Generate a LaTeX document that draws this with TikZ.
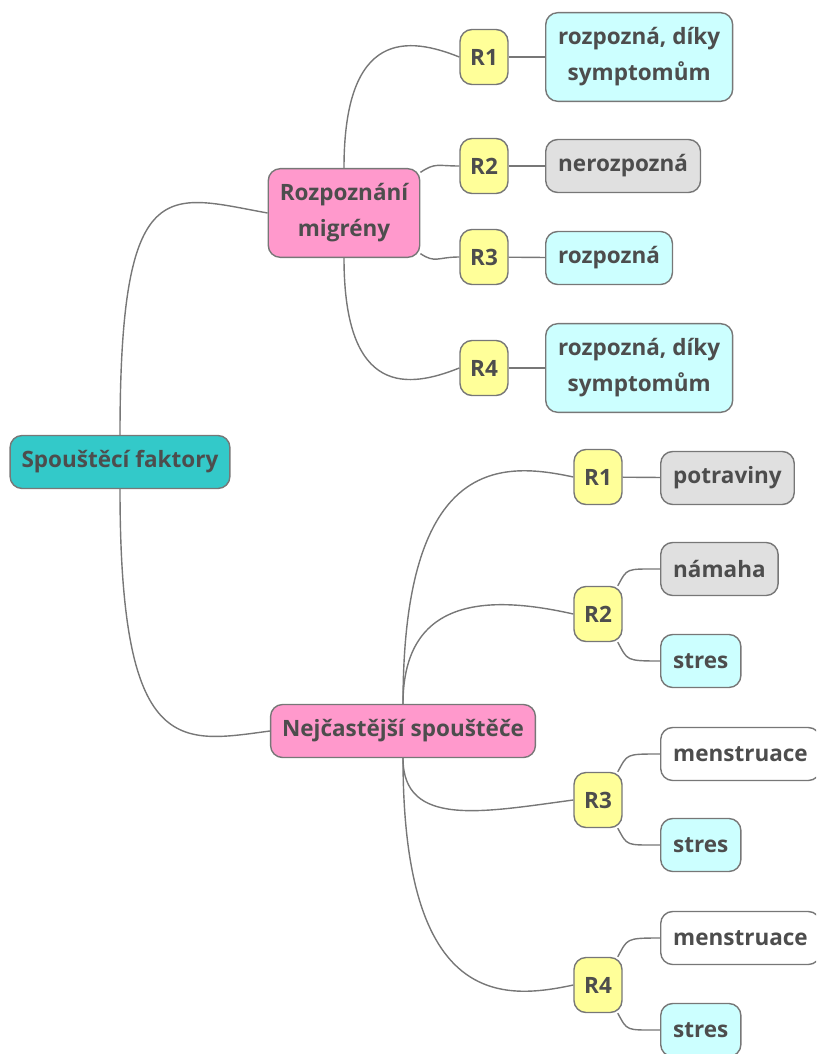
\documentclass[tikz,border=0pt]{standalone}
\usepackage{fontspec}
\setmainfont{Open Sans}
\usetikzlibrary{calc}
\definecolor{edgegray}{HTML}{777777}
\definecolor{txtgray}{HTML}{4D4D4D}
\definecolor{rootfill}{HTML}{33C9C9}
\definecolor{pinkfill}{HTML}{FF99CC}
\definecolor{yellowfill}{HTML}{FFFF99}
\definecolor{cyanfill}{HTML}{CCFFFF}
\definecolor{grayfill}{HTML}{E0E0E0}
\tikzset{
  box/.style={draw=edgegray, line width=1.4pt, rounded corners=12pt, text=txtgray,
    font=\fontsize{22.5}{36}\selectfont\bfseries, align=center,
    inner xsep=11.5pt, inner ysep=13.5pt, minimum height=53pt},
  twoline/.style={inner ysep=15pt},
  rootbox/.style={box, fill=rootfill},
  topicbox/.style={box, fill=pinkfill},
  rbox/.style={box, fill=yellowfill, minimum width=48pt, minimum height=55pt, inner xsep=3pt},
  leafyes/.style={box, fill=cyanfill, anchor=west, inner xsep=12.5pt},
  leafno/.style={box, fill=grayfill, anchor=west, inner xsep=12.5pt},
  leafplain/.style={box, fill=white, anchor=west, inner xsep=12.5pt},
  link/.style={draw=edgegray, line width=1.4pt},
}
\begin{document}
\begin{tikzpicture}[x=1pt, y=-1pt]
\useasboundingbox (0,0) rectangle (816,1054);
\clip (0,0) rectangle (816,1054);

% root and main topics
\node[rootbox] (root) at (120,462) {Spouštěcí faktory};
\node[topicbox, twoline] (rozp) at (344,213) {Rozpoznání\\migrény};
\node[topicbox] (nej) at (403,731) {Nejčastější spouštěče};

% recognition branch
\node[rbox] (a1) at (484,57) {R1};
\node[rbox] (a2) at (484,166) {R2};
\node[rbox] (a3) at (484,257) {R3};
\node[rbox] (a4) at (484,368) {R4};
\node[leafyes, twoline] (a1l) at (545,57) {rozpozná, díky\\symptomům};
\node[leafno] (a2l) at (545,166) {nerozpozná};
\node[leafyes] (a3l) at (545,258) {rozpozná};
\node[leafyes, twoline] (a4l) at (545,368) {rozpozná, díky\\symptomům};

% triggers branch
\node[rbox] (b1) at (598,477) {R1};
\node[rbox] (b2) at (598,614) {R2};
\node[rbox] (b3) at (598,800) {R3};
\node[rbox] (b4) at (598,985) {R4};
\node[leafno] (b1l) at (660,478) {potraviny};
\node[leafno] (b2a) at (660,569) {námaha};
\node[leafyes] (b2b) at (660,661) {stres};
\node[leafplain] (b3a) at (660,754) {menstruace};
\node[leafyes] (b3b) at (660,845) {stres};
\node[leafplain] (b4a) at (660,938) {menstruace};
\node[leafyes] (b4b) at (660,1030) {stres};

% root connectors
\draw[link] (root.north) .. controls +(0,-266) and +(-100,-18) .. (rozp.west);
\draw[link] (root.south) .. controls +(0,270) and +(-90,12) .. (nej.west);

% recognition connectors
\draw[link] (rozp.north) .. controls +(0,-140) and +(-50,-20) .. (a1.west);
\draw[link] (rozp.28) .. controls +(15,-10) and +(-22,0) .. (a2.west);
\draw[link] (rozp.-28) .. controls +(15,10) and +(-22,0) .. (a3.west);
\draw[link] (rozp.south) .. controls +(0,140) and +(-50,20) .. (a4.west);
\draw[link] (a1) -- (a1l);
\draw[link] (a2) -- (a2l);
\draw[link] (a3) -- (a3l);
\draw[link] (a4) -- (a4l);

% trigger connectors
\draw[link] (nej.north) .. controls +(0,-250) and +(-70,-15) .. (b1.west);
\draw[link] (nej.north) .. controls +(0,-110) and +(-80,-18) .. (b2.west);
\draw[link] (nej.south) .. controls +(0,70) and +(-90,12) .. (b3.west);
\draw[link] (nej.south) .. controls +(0,250) and +(-70,15) .. (b4.west);
\draw[link] (b1) -- (b1l);
\draw[link] (b2.55) .. controls +(10,-18) and +(-35,0) .. (b2a.west);
\draw[link] (b2.-55) .. controls +(10,18) and +(-35,0) .. (b2b.west);
\draw[link] (b3.55) .. controls +(10,-18) and +(-35,0) .. (b3a.west);
\draw[link] (b3.-55) .. controls +(10,18) and +(-35,0) .. (b3b.west);
\draw[link] (b4.55) .. controls +(10,-18) and +(-35,0) .. (b4a.west);
\draw[link] (b4.-55) .. controls +(10,18) and +(-35,0) .. (b4b.west);
\end{tikzpicture}
\end{document}
